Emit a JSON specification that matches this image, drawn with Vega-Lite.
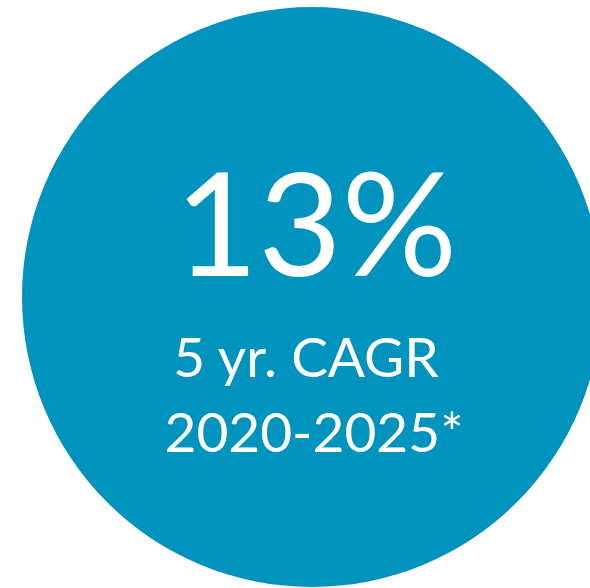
{
  "$schema": "https://vega.github.io/schema/vega-lite/v6.json",
  "width": 590,
  "height": 588,
  "autosize": {"type": "fit", "contains": "padding"},
  "padding": {"left": 34, "top": 6, "right": 0, "bottom": 0},
  "background": "white",
  "config": {"view": {"stroke": null}},
  "data": {"values": [{"value": "13%", "metric": "5 yr. CAGR", "period": "2020-2025*"}]},
  "layer": [
    {"mark": {"type": "arc", "radius": 290, "color": "#0093BE"}, "encoding": {}},
    {"mark": {"type": "text", "font": "Lato", "fontSize": 144, "color": "white", "baseline": "alphabetic", "align": "center", "dx": 4, "dy": -21},
     "encoding": {"text": {"field": "value"}}},
    {"mark": {"type": "text", "font": "Lato", "fontSize": 55, "color": "white", "baseline": "alphabetic", "align": "center", "dx": -6, "dy": 80},
     "encoding": {"text": {"field": "metric"}}},
    {"mark": {"type": "text", "font": "Lato", "fontSize": 55, "color": "white", "baseline": "alphabetic", "align": "center", "dx": 2, "dy": 155},
     "encoding": {"text": {"field": "period"}}}
  ]
}
